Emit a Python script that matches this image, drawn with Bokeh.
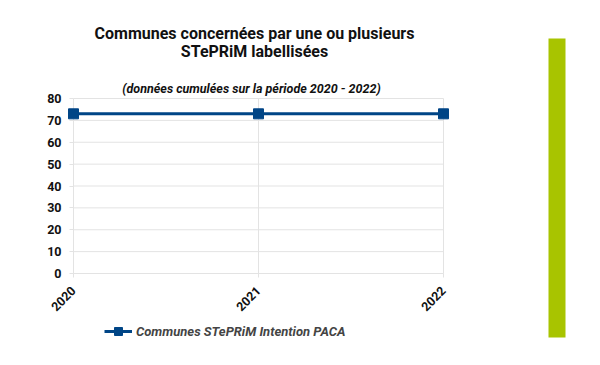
from bokeh.plotting import figure
from bokeh.models import Label, Legend, LegendItem, Range1d, FixedTicker
from bokeh.embed import file_html
from bokeh.resources import INLINE
import math

years = [2020, 2021, 2022]
values = [73, 73, 73]
series_name = "Communes STePRiM Intention PACA"
title_lines = ["Communes concernées par une ou plusieurs", "STePRiM labellisées"]
subtitle = "(données cumulées sur la période 2020 - 2022)"
y_ticks = [0, 10, 20, 30, 40, 50, 60, 70, 80]

FONT = "Roboto"
BLUE = "#004586"
GRID = "#e3e3e3"

W, H = 584, 349
# plot area in canvas pixels
PX_L, PX_R, PX_T, PX_B = 73, 443, 98, 273
x0, x1 = years[0], years[-1]
y0, y1 = y_ticks[0], y_ticks[-1]
sx = (PX_R - PX_L) / (x1 - x0)
sy = (PX_B - PX_T) / (y1 - y0)

def dx(px):
    return x0 + (px - PX_L) / sx

def dy(py):
    return y0 + (PX_B - py) / sy

p = figure(width=W, height=H, output_backend="svg", toolbar_location=None,
           x_range=Range1d(dx(0), dx(W)), y_range=Range1d(dy(H), dy(0)),
           min_border=0)
p.title.visible = False
p.outline_line_color = None
p.grid.visible = False

p.xaxis.fixed_location = y0
p.yaxis.fixed_location = x0
p.xaxis.bounds = (x0, x1)
p.yaxis.bounds = (y0, y1)
p.xaxis.ticker = FixedTicker(ticks=years)
p.yaxis.ticker = FixedTicker(ticks=y_ticks)
for ax in (p.xaxis[0], p.yaxis[0]):
    ax.axis_line_color = None
    ax.major_tick_line_color = GRID
    ax.major_tick_out = 4
    ax.major_tick_in = 0
    ax.minor_tick_line_color = None
    ax.major_label_text_font = FONT
    ax.major_label_text_font_style = "bold"
    ax.major_label_text_font_size = "12.5px"
    ax.major_label_text_color = "#111111"
p.xaxis.major_label_orientation = math.pi / 4
p.xaxis.major_label_standoff = 11
p.yaxis.major_label_standoff = 8

# grid lines of the plot area
p.segment(x0=[x0] * len(y_ticks), y0=y_ticks, x1=[x1] * len(y_ticks), y1=y_ticks,
          line_color=GRID, line_width=1)
p.segment(x0=years, y0=[y0] * len(years), x1=years, y1=[y1] * len(years),
          line_color=GRID, line_width=1)

r_line = p.line(years, values, line_color=BLUE, line_width=3)
r_mark = p.scatter(years, values, marker="square", size=10, fill_color=BLUE, line_color=BLUE)

legend = Legend(items=[LegendItem(label=series_name, renderers=[r_line, r_mark])],
                location=(104, H - 331 - 10), orientation="horizontal",
                label_text_font=FONT, label_text_font_style="bold italic",
                label_text_font_size="13px", background_fill_alpha=0, border_line_color=None,
                glyph_width=28, glyph_height=20, label_standoff=4, padding=0, margin=0)
p.add_layout(legend, "center")

for t, py in zip(title_lines, [33, 51]):
    p.add_layout(Label(x=dx(254), y=dy(py), text=t, text_font=FONT, text_font_style="bold",
                       text_font_size="16px", text_align="center", text_baseline="middle",
                       text_color="#111111"))
p.add_layout(Label(x=dx(251), y=dy(88), text=subtitle, text_font=FONT,
                   text_font_style="bold italic", text_font_size="12.5px",
                   text_align="center", text_baseline="middle", text_color="#111111"))

# green side band
p.quad(left=[dx(548)], right=[dx(565)], top=[dy(38)], bottom=[dy(337)],
       fill_color="#a8c400", line_color=None)

open("out.html", "w").write(file_html(p, INLINE))
